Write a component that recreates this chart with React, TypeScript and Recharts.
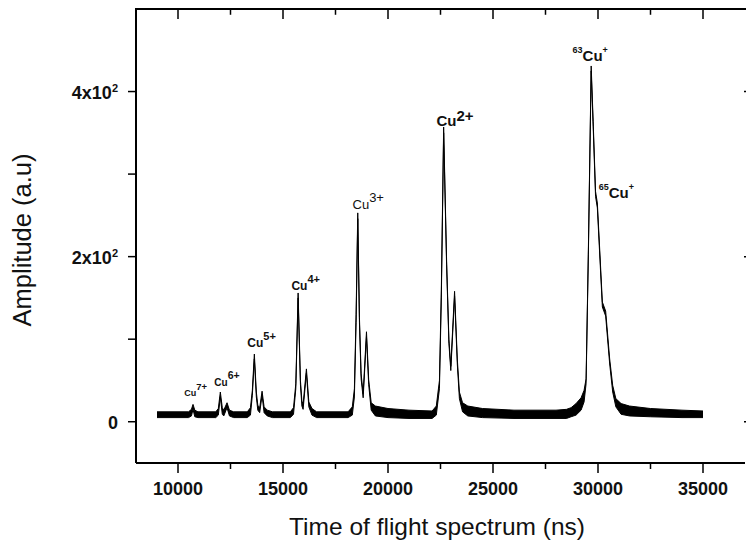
import React from "react";
import { ComposedChart, Area, XAxis, YAxis, ReferenceDot, ReferenceLine } from "recharts";

// time of flight (ns) with the lower / upper edge of the noisy trace
const timeNs = [
  9000, 10000, 10500, 10640, 10715, 10800, 10950, 11800, 11920, 12016, 12110, 12180, 12335, 12450,
  12650, 13300, 13450, 13540, 13636, 13730, 13800, 13890, 14003, 14100, 14250, 14500, 15350, 15500,
  15610, 15720, 15830, 15900, 15957, 16115, 16230, 16380, 16600, 18100, 18300, 18400, 18480, 18560,
  18640, 18720, 18817, 18975, 19080, 19200, 19400, 20000, 21000, 22100, 22300, 22450, 22540, 22650,
  22790, 22900, 22990, 23170, 23300, 23400, 23550, 23800, 24500, 26000, 28000, 28500, 28718, 28956,
  29194, 29337, 29433, 29542, 29675, 29770, 29883, 29969, 30208, 30365, 30556, 30700, 30850, 31100,
  31500, 32500, 34000, 35000,
];
const ampLow = [
  5, 5, 5, 7, 15, 6, 5, 5, 8, 30, 9, 7, 17, 7,
  5, 5, 8, 32, 76, 30, 14, 11, 32, 11, 7, 5, 5, 9,
  40, 150, 45, 19, 15, 59, 18, 8, 5, 5, 8, 30, 120, 246,
  120, 52, 29, 103, 45, 14, 7, 5, 4, 4, 8, 40, 150, 350,
  190, 95, 62, 152, 70, 28, 12, 7, 5, 4, 4, 4, 6, 8,
  14, 24, 46, 203, 425, 358, 273, 259, 139, 128, 70, 36, 18, 9,
  7, 6, 5, 5,
];
const ampHigh = [
  12, 12, 12, 15, 21, 14, 12, 12, 16, 36, 17, 14, 23, 14,
  12, 12, 17, 38, 82, 36, 20, 17, 37, 18, 14, 12, 12, 17,
  46, 156, 50, 25, 21, 64, 24, 16, 12, 12, 18, 40, 130, 253,
  126, 58, 34, 109, 51, 23, 19, 16, 14, 13, 19, 50, 160, 357,
  196, 100, 67, 158, 76, 36, 23, 19, 16, 14, 14, 15, 17, 22,
  29, 38, 52, 209, 431, 364, 279, 265, 145, 134, 76, 44, 28, 22,
  19, 16, 14, 13,
];

const xDomain = [8000, 37000];
const yDomain = [-50, 500];
const xMajor = [10000, 15000, 20000, 25000, 30000, 35000];
const xMinor = [12500, 17500, 22500, 27500, 32500];
const yMajor = [0, 200, 400];
const yMinor = [100, 300];
const yLabels: Record<number, [string, string]> = { 0: ["0", ""], 200: ["2x10", "2"], 400: ["4x10", "2"] };

// ion labels: anchor (ns, amplitude) of the text start / baseline
const ionX = [10300, 11730, 13300, 15400, 18310, 22310, 28790, 30030];
const ionY = [31, 43, 90, 159, 258, 358, 437, 271];
const ionPre = ["", "", "", "", "", "", "63", "65"];
const ionCharge = ["7+", "6+", "5+", "4+", "3+", "2+", "+", "+"];

const ionStyle = [
  { size: 9, supSize: 9.5, dy: 6, weight: 700 },
  { size: 10, supSize: 10.5, dy: 7, weight: 700 },
  { size: 12, supSize: 11, dy: 7, weight: 700 },
  { size: 12, supSize: 11, dy: 7, weight: 700 },
  { size: 13, supSize: 13, dy: 7, weight: 400 },
  { size: 15, supSize: 15, dy: 5, weight: 700 },
  { size: 15, supSize: 9, dy: 8, weight: 700 },
  { size: 15, supSize: 9, dy: 8, weight: 700 },
];

const FONT = "'Liberation Sans', Arial, sans-serif";

const data = timeNs.map((t, i) => ({ t, lo: ampLow[i], hi: ampHigh[i] }));
const ions = ionX.map((x, i) => ({ x, y: ionY[i], pre: ionPre[i], charge: ionCharge[i], ...ionStyle[i] }));

function BottomTick(props: any) {
  const { x, y, payload } = props;
  const major = xMajor.includes(payload.value);
  return (
    <g>
      <line x1={x} y1={y} x2={x} y2={y + (major ? 10 : 6)} stroke="#000" strokeWidth={1.5} />
      {major && (
        <text x={x} y={y + 32} textAnchor="middle" fontFamily={FONT} fontWeight={700} fontSize={18} fill="#111">
          {payload.value}
        </text>
      )}
    </g>
  );
}

function LeftTick(props: any) {
  const { x, y, payload } = props;
  const lab = yLabels[payload.value];
  return (
    <g>
      <line x1={x} y1={y} x2={x - 8} y2={y} stroke="#000" strokeWidth={1.5} />
      {lab && (
        <text x={x - 18} y={y + 7} textAnchor="end" fontFamily={FONT} fontWeight={700} fontSize={18} fill="#111">
          {lab[0]}
          {lab[1] && (
            <tspan fontSize={11} dy={-7}>
              {lab[1]}
            </tspan>
          )}
        </text>
      )}
    </g>
  );
}

function RightTick(props: any) {
  const { x, y } = props;
  return <line x1={x + 1} y1={y} x2={x - 1} y2={y} stroke="#000" strokeWidth={1.5} />;
}

function IonLabel(props: any) {
  const { cx, cy, ion } = props;
  if (cx == null || cy == null) return null;
  return (
    <text x={cx} y={cy} fontFamily={FONT} fontWeight={ion.weight} fontSize={ion.size} fill="#111">
      {ion.pre && (
        <tspan fontSize={ion.supSize} dy={-ion.dy}>
          {ion.pre}
        </tspan>
      )}
      <tspan dy={ion.pre ? ion.dy : 0}>Cu</tspan>
      <tspan fontSize={ion.supSize} dy={-ion.dy}>
        {ion.charge}
      </tspan>
    </text>
  );
}

export default function App() {
  return (
    <div style={{ position: "absolute", left: 0, top: 0, width: 746, height: 541, background: "#fff" }}>
      <ComposedChart width={746} height={541} data={data} margin={{ top: 9, right: 0, bottom: 0, left: 0 }}>
        <XAxis
          xAxisId="bottom"
          dataKey="t"
          type="number"
          domain={xDomain}
          allowDataOverflow
          ticks={[...xMajor, ...xMinor]}
          interval={0}
          height={78}
          tickSize={0}
          tickMargin={0}
          tickLine={false}
          tick={BottomTick}
          axisLine={{ stroke: "#000", strokeWidth: 2 }}
          label={{
            content: ({ viewBox }: any) => (
              <text x={437} y={viewBox.y + 72} textAnchor="middle" fontFamily={FONT} fontSize={24.5} fill="#111">
                Time of flight spectrum (ns)
              </text>
            ),
          }}
        />
        <YAxis
          yAxisId="left"
          type="number"
          domain={yDomain}
          allowDataOverflow
          ticks={[...yMajor, ...yMinor]}
          interval={0}
          width={136}
          tickSize={0}
          tickMargin={0}
          tickLine={false}
          tick={LeftTick}
          axisLine={{ stroke: "#000", strokeWidth: 2 }}
          label={{
            content: ({ viewBox }: any) => {
              const cx = viewBox.x + 31;
              const cy = viewBox.y + viewBox.height / 2 + 4;
              return (
                <text
                  x={cx}
                  y={cy}
                  transform={`rotate(-90 ${cx} ${cy})`}
                  textAnchor="middle"
                  fontFamily={FONT}
                  fontSize={25.5}
                  fill="#111"
                >
                  Amplitude (a.u)
                </text>
              );
            },
          }}
        />
        <YAxis
          yAxisId="right"
          orientation="right"
          type="number"
          domain={yDomain}
          allowDataOverflow
          ticks={yMajor}
          interval={0}
          width={1}
          tickSize={0}
          tickMargin={0}
          tickLine={false}
          tick={RightTick}
          axisLine={false}
        />
        {/* top frame line and its inward ticks */}
        <ReferenceLine xAxisId="bottom" yAxisId="left" y={500} stroke="#000" strokeWidth={2} ifOverflow="visible" />
        {xMajor.map((v) => (
          <ReferenceLine
            key={`tm${v}`}
            xAxisId="bottom"
            yAxisId="left"
            segment={[
              { x: v, y: 500 },
              { x: v, y: 488 },
            ]}
            stroke="#000"
            strokeWidth={1.5}
            ifOverflow="visible"
          />
        ))}
        {xMinor.map((v) => (
          <ReferenceLine
            key={`tn${v}`}
            xAxisId="bottom"
            yAxisId="left"
            segment={[
              { x: v, y: 500 },
              { x: v, y: 493 },
            ]}
            stroke="#000"
            strokeWidth={1.5}
            ifOverflow="visible"
          />
        ))}
        <Area
          xAxisId="bottom"
          yAxisId="left"
          type="linear"
          dataKey={(d: any) => [d.lo, d.hi]}
          stroke="#000"
          strokeWidth={1}
          fill="#000"
          fillOpacity={1}
          dot={false}
          activeDot={false}
          isAnimationActive={false}
        />
        {ions.map((ion, i) => (
          <ReferenceDot
            key={i}
            xAxisId="bottom"
            yAxisId="left"
            x={ion.x}
            y={ion.y}
            r={0}
            shape={(p: any) => <IonLabel {...p} ion={ion} />}
          />
        ))}
      </ComposedChart>
      <div
        style={{ position: "absolute", left: 135, top: 8, width: 611, height: 0, borderTop: "2px solid #000" }}
      />
    </div>
  );
}
